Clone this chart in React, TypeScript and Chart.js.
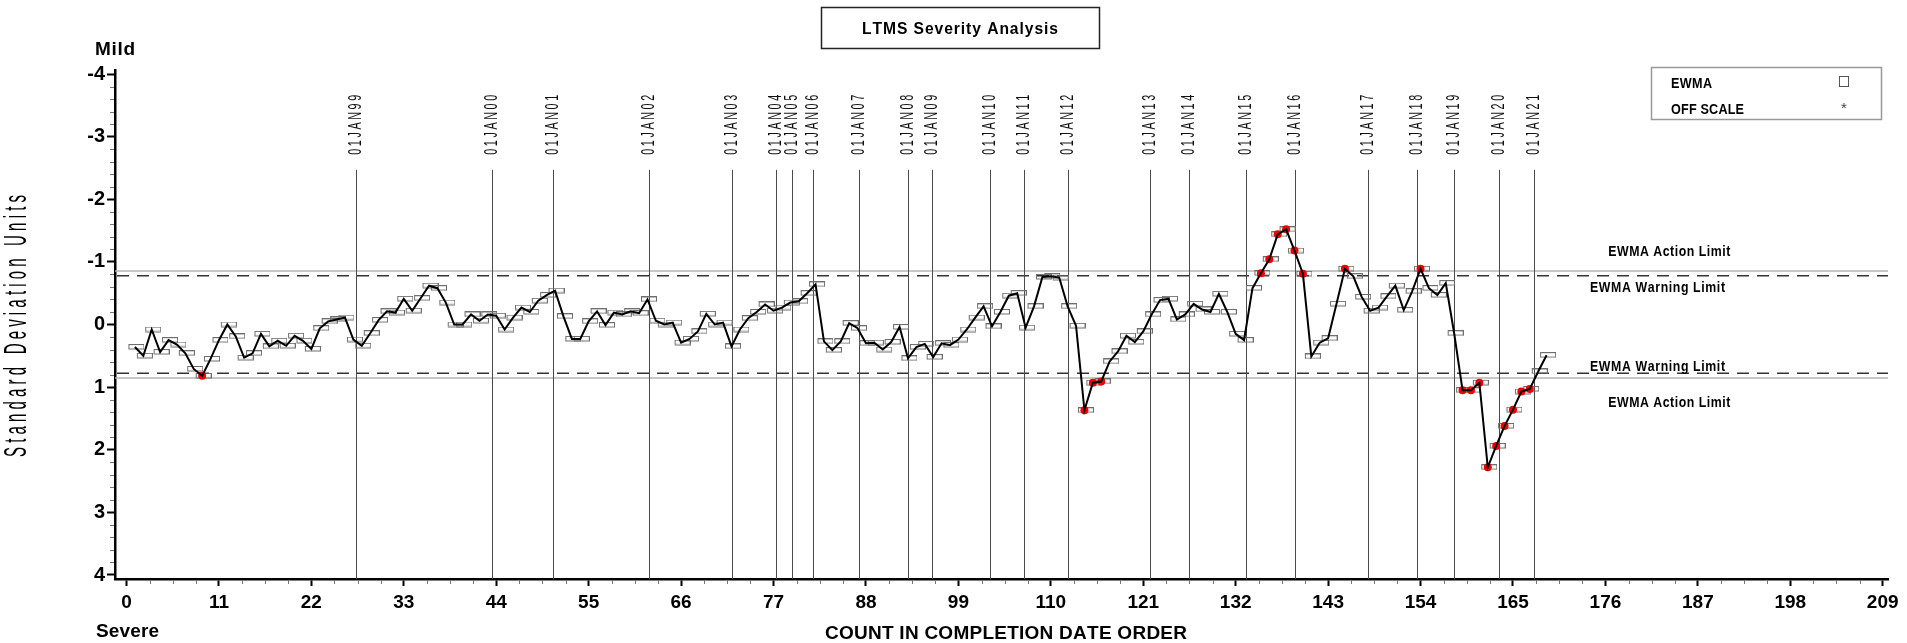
import React, { useEffect, useRef } from 'react';
import { Chart, registerables } from 'chart.js';

Chart.register(...registerables);

const TITLE = 'LTMS Severity Analysis';
const X_TITLE = 'COUNT IN COMPLETION DATE ORDER';
const Y_TITLE = 'Standard Deviation Units';
const TOP_NOTE = 'Mild';
const BOTTOM_NOTE = 'Severe';
const LEGEND_ITEMS = ['EWMA', 'OFF SCALE'];

const X_TICKS = [0, 11, 22, 33, 44, 55, 66, 77, 88, 99, 110, 121, 132, 143, 154, 165, 176, 187, 198, 209];
const Y_TICKS = [-4, -3, -2, -1, 0, 1, 2, 3, 4];

const FIRST_COUNT = 1;
const EWMA = [
  0.36, 0.50, 0.08, 0.44, 0.25, 0.32, 0.46, 0.71, 0.82, 0.55,
  0.25, 0.00, 0.19, 0.53, 0.46, 0.15, 0.35, 0.26, 0.34, 0.18,
  0.26, 0.39, 0.06, -0.05, -0.08, -0.11, 0.24, 0.34, 0.14, -0.07,
  -0.21, -0.19, -0.41, -0.22, -0.42, -0.62, -0.58, -0.35, 0.00, 0.00,
  -0.16, -0.06, -0.16, -0.14, 0.08, -0.11, -0.27, -0.20, -0.38, -0.47,
  -0.54, -0.13, 0.23, 0.23, -0.05, -0.21, 0.01, -0.19, -0.16, -0.21,
  -0.18, -0.40, -0.06, 0.00, -0.03, 0.29, 0.23, 0.11, -0.17, 0.00,
  -0.03, 0.35, 0.08, -0.10, -0.20, -0.32, -0.22, -0.27, -0.35, -0.37,
  -0.50, -0.64, 0.27, 0.41, 0.27, -0.02, 0.06, 0.30, 0.29, 0.40,
  0.28, 0.04, 0.54, 0.36, 0.31, 0.52, 0.30, 0.33, 0.24, 0.08,
  -0.11, -0.29, 0.03, -0.20, -0.46, -0.50, 0.05, -0.29, -0.76, -0.77,
  -0.75, -0.29, 0.02, 1.37, 0.93, 0.91, 0.59, 0.43, 0.18, 0.28,
  0.11, -0.16, -0.39, -0.41, -0.08, -0.16, -0.33, -0.24, -0.20, -0.49,
  -0.20, 0.15, 0.25, -0.58, -0.82, -1.04, -1.44, -1.52, -1.18, -0.81,
  0.51, 0.29, 0.22, -0.33, -0.89, -0.77, -0.44, -0.22, -0.27, -0.45,
  -0.62, -0.23, -0.53, -0.89, -0.58, -0.47, -0.66, 0.14, 1.05, 1.05,
  0.93, 2.28, 1.94, 1.62, 1.36, 1.07, 1.03, 0.75, 0.49,
];

const DATE_LABELS = [
  '01JAN99', '01JAN00', '01JAN01', '01JAN02', '01JAN03', '01JAN04', '01JAN05', '01JAN06',
  '01JAN07', '01JAN08', '01JAN09', '01JAN10', '01JAN11', '01JAN12', '01JAN13', '01JAN14',
  '01JAN15', '01JAN16', '01JAN17', '01JAN18', '01JAN19', '01JAN20', '01JAN21',
];
const DATE_POS = [
  27.3, 43.5, 50.8, 62.2, 72.1, 77.3, 79.2, 81.7,
  87.2, 93.0, 95.9, 102.8, 106.8, 112.1, 121.8, 126.5,
  133.2, 139.1, 147.7, 153.6, 158.0, 163.3, 167.5,
];

const WARNING_LIMIT = 0.78;
const ACTION_LIMIT = 0.855;
const LIMIT_LABELS = ['EWMA Action Limit', 'EWMA Warning Limit', 'EWMA Warning Limit', 'EWMA Action Limit'];

const FONT = '"Liberation Sans", Arial, sans-serif';

function makeRectMarker(): HTMLCanvasElement {
  const c = document.createElement('canvas');
  c.width = 19;
  c.height = 6;
  const g = c.getContext('2d')!;
  g.strokeStyle = '#6e6e6e';
  g.lineWidth = 1;
  g.strokeRect(3.5, 0.5, 15, 4.5);
  return c;
}

type TextOpts = {
  scaleX?: number;
  spacing?: number;
  length?: number;
  align?: 'left' | 'center' | 'right';
  rotate?: boolean;
  color?: string;
};

// draws text char by char so spacing works everywhere
function drawText(ctx: CanvasRenderingContext2D, text: string, x: number, y: number, font: string, opts: TextOpts = {}) {
  const { scaleX = 1, spacing = 0, length, align = 'center', rotate = false, color = '#000' } = opts;
  ctx.save();
  ctx.translate(x, y);
  if (rotate) ctx.rotate(-Math.PI / 2);
  ctx.scale(scaleX, 1);
  ctx.font = font;
  ctx.fillStyle = color;
  ctx.textAlign = 'left';
  ctx.textBaseline = 'middle';
  const chars = Array.from(text);
  const widths = chars.map((c) => ctx.measureText(c).width);
  const natural = widths.reduce((s, w) => s + w, 0);
  let sp = spacing;
  if (length != null && chars.length > 1) sp = (length / scaleX - natural) / (chars.length - 1);
  const total = natural + sp * (chars.length - 1);
  let cx = align === 'center' ? -total / 2 : align === 'right' ? -total : 0;
  chars.forEach((c, i) => {
    ctx.fillText(c, cx, 0);
    cx += widths[i] + sp;
  });
  ctx.restore();
}

const decorations = {
  id: 'decorations',
  beforeDatasetsDraw(chart: any) {
    const { ctx, chartArea: a, scales } = chart;
    const x = scales.x;
    const y = scales.y;
    ctx.save();
    // limit lines
    ctx.strokeStyle = '#b4b4b4';
    ctx.lineWidth = 1.6;
    ctx.setLineDash([]);
    for (const v of [-ACTION_LIMIT, ACTION_LIMIT]) {
      const py = y.getPixelForValue(v);
      ctx.beginPath();
      ctx.moveTo(a.left, py);
      ctx.lineTo(a.right, py);
      ctx.stroke();
    }
    ctx.strokeStyle = '#333';
    ctx.lineWidth = 1.5;
    ctx.setLineDash([12, 8]);
    for (const v of [-WARNING_LIMIT, WARNING_LIMIT]) {
      const py = y.getPixelForValue(v);
      ctx.beginPath();
      ctx.moveTo(a.left + 2, py);
      ctx.lineTo(a.right, py);
      ctx.stroke();
    }
    ctx.setLineDash([]);
    // date reference lines
    ctx.strokeStyle = '#4a4a4a';
    ctx.lineWidth = 1;
    const top = y.getPixelForValue(-2.47);
    DATE_POS.forEach((p) => {
      const px = Math.round(x.getPixelForValue(p)) + 0.5;
      ctx.beginPath();
      ctx.moveTo(px, top);
      ctx.lineTo(px, a.bottom);
      ctx.stroke();
    });
    ctx.restore();
  },
  afterDraw(chart: any) {
    const { ctx, chartArea: a, scales } = chart;
    const x = scales.x;
    const y = scales.y;
    ctx.save();

    // minor ticks
    ctx.strokeStyle = '#777';
    ctx.lineWidth = 1;
    for (let i = 0; i <= 76; i++) {
      if (i % 4 === 0) continue;
      const px = Math.round(x.getPixelForValue(i * 2.75)) + 0.5;
      ctx.beginPath();
      ctx.moveTo(px, a.bottom + 1);
      ctx.lineTo(px, a.bottom + 5);
      ctx.stroke();
    }
    for (let i = -20; i <= 20; i++) {
      if (i % 5 === 0) continue;
      const py = Math.round(y.getPixelForValue(i * 0.2)) + 0.5;
      ctx.beginPath();
      ctx.moveTo(a.left - 5, py);
      ctx.lineTo(a.left - 1, py);
      ctx.stroke();
    }

    // date labels
    const labelBottom = y.getPixelForValue(-2.71);
    DATE_LABELS.forEach((t, i) => {
      const px = x.getPixelForValue(DATE_POS[i]);
      drawText(ctx, t, px, labelBottom, `18px ${FONT}`, { scaleX: 0.6, length: 60, align: 'left', rotate: true, color: '#111' });
    });

    // limit labels
    const lim = [
      { t: LIMIT_LABELS[0], cx: 183.6, v: -1.163, len: 122 },
      { t: LIMIT_LABELS[1], cx: 182.2, v: -0.578, len: 135 },
      { t: LIMIT_LABELS[2], cx: 182.2, v: 0.674, len: 135 },
      { t: LIMIT_LABELS[3], cx: 183.6, v: 1.249, len: 122 },
    ];
    lim.forEach((l) => {
      drawText(ctx, l.t, x.getPixelForValue(l.cx), y.getPixelForValue(l.v), `bold 14px ${FONT}`, { scaleX: 0.88, length: l.len });
    });

    // title box
    ctx.strokeStyle = '#222';
    ctx.lineWidth = 1.5;
    ctx.strokeRect(821.5, 7.5, 278, 41);
    drawText(ctx, TITLE, 960, 29, `bold 17px ${FONT}`, { scaleX: 0.92, length: 196 });

    // legend
    ctx.strokeStyle = '#999';
    ctx.lineWidth = 1.5;
    ctx.strokeRect(1651.5, 67.5, 230, 52);
    drawText(ctx, LEGEND_ITEMS[0], 1671, 84, `bold 14px ${FONT}`, { scaleX: 0.9, align: 'left', length: 41 });
    drawText(ctx, LEGEND_ITEMS[1], 1671, 110, `bold 14px ${FONT}`, { scaleX: 0.9, align: 'left', length: 73 });
    ctx.strokeStyle = '#555';
    ctx.lineWidth = 1;
    ctx.strokeRect(1839.5, 76.5, 9, 10);
    drawText(ctx, '*', 1844, 109, `15px ${FONT}`, { color: '#444' });

    // axis notes and titles
    drawText(ctx, TOP_NOTE, 95, 50, `bold 19px ${FONT}`, { align: 'left', length: 40 });
    drawText(ctx, BOTTOM_NOTE, 96, 632, `bold 19px ${FONT}`, { align: 'left', length: 63 });
    drawText(ctx, X_TITLE, 1006, 634, `bold 19px ${FONT}`, { length: 362 });
    drawText(ctx, Y_TITLE, 17, 326, `32px ${FONT}`, { scaleX: 0.47, length: 262, rotate: true });

    ctx.restore();
  },
};

export default function App() {
  const ref = useRef<HTMLCanvasElement | null>(null);

  useEffect(() => {
    const canvas = ref.current!;
    const rectMarker = makeRectMarker();
    const points = EWMA.map((v, i) => ({ x: FIRST_COUNT + i, y: v }));
    const offScale = points.filter((p) => Math.abs(p.y) > WARNING_LIMIT);

    const tickFont = { family: FONT, size: 19, weight: 'bold' as const };

    const chart = new Chart(canvas, {
      type: 'line',
      data: {
        datasets: [
          {
            label: 'EWMA line',
            data: points,
            borderColor: '#000',
            borderWidth: 2,
            pointRadius: 0,
            tension: 0,
            order: 0,
          },
          {
            label: 'OFF SCALE',
            data: offScale,
            showLine: false,
            pointStyle: 'circle',
            pointRadius: 4,
            backgroundColor: '#f00000',
            borderColor: '#f00000',
            borderWidth: 0,
            order: 1,
          },
          {
            label: 'EWMA',
            data: points,
            showLine: false,
            pointStyle: rectMarker as any,
            pointRadius: 6,
            order: 2,
          },
        ],
      },
      options: {
        responsive: false,
        animation: false,
        devicePixelRatio: 1,
        events: [],
        layout: { padding: { top: 70, right: 19, left: 0, bottom: 0 } },
        plugins: {
          legend: { display: false },
          tooltip: { enabled: false },
          title: { display: false },
        },
        scales: {
          x: {
            type: 'linear',
            min: -1.37,
            max: 209.63,
            afterBuildTicks: (s: any) => {
              s.ticks = X_TICKS.map((v) => ({ value: v }));
            },
            afterFit: (s: any) => {
              s.height = 64;
            },
            ticks: {
              font: tickFont,
              color: '#000',
              padding: 5,
              maxRotation: 0,
              autoSkip: false,
              callback: (v: any) => String(v),
            },
            grid: { drawOnChartArea: false, drawTicks: true, tickLength: 7, tickColor: '#000', tickWidth: 2 },
            border: { display: true, color: '#000', width: 2.5 },
          },
          y: {
            type: 'linear',
            reverse: true,
            min: -4.064,
            max: 4.064,
            afterBuildTicks: (s: any) => {
              s.ticks = Y_TICKS.map((v) => ({ value: v }));
            },
            afterFit: (s: any) => {
              s.width = 115;
            },
            ticks: {
              font: { family: FONT, size: 20, weight: 'bold' as const },
              color: '#000',
              padding: 2,
              autoSkip: false,
              callback: (v: any) => String(v),
            },
            grid: { drawOnChartArea: false, drawTicks: true, tickLength: 8, tickColor: '#000', tickWidth: 2 },
            border: { display: true, color: '#000', width: 2.5 },
          },
        },
      },
      plugins: [decorations as any],
    });

    return () => chart.destroy();
  }, []);

  return (
    <div style={{ position: 'absolute', left: 0, top: 0, width: 1907, height: 643, background: '#fff' }}>
      <canvas ref={ref} width={1907} height={643} style={{ display: 'block', width: 1907, height: 643 }} />
    </div>
  );
}
